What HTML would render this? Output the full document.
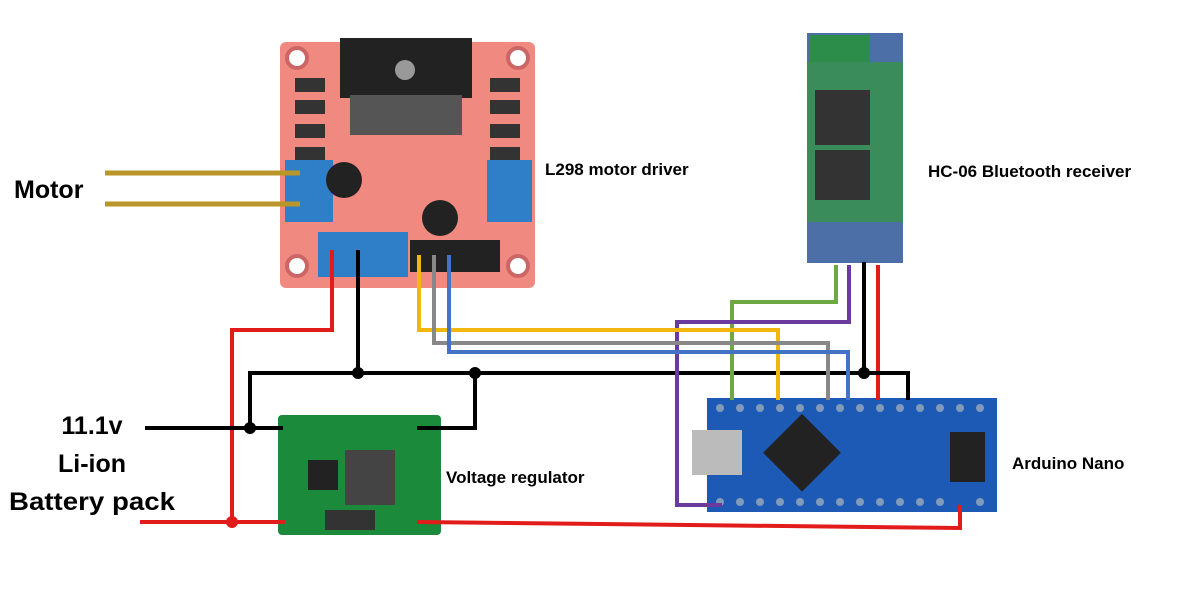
<!DOCTYPE html>
<html><head><style>
body{margin:0;background:#fff;width:1185px;height:592px;overflow:hidden;font-family:"Liberation Sans",sans-serif}
</style></head><body>
<svg width="1185" height="592" xmlns="http://www.w3.org/2000/svg" font-family="Liberation Sans, sans-serif" font-weight="bold">
<!-- L298 board -->
<rect x="280" y="42" width="255" height="246" rx="6" fill="#f08a80"/>
<rect x="340" y="38" width="132" height="60" fill="#222"/>
<rect x="350" y="95" width="112" height="40" fill="#555"/>
<circle cx="405" cy="70" r="10" fill="#999"/>
<circle cx="297" cy="58" r="10" fill="#fff" stroke="#c66" stroke-width="4"/>
<circle cx="518" cy="58" r="10" fill="#fff" stroke="#c66" stroke-width="4"/>
<circle cx="297" cy="266" r="10" fill="#fff" stroke="#c66" stroke-width="4"/>
<circle cx="518" cy="266" r="10" fill="#fff" stroke="#c66" stroke-width="4"/>
<g fill="#333"><rect x="295" y="78" width="30" height="14"/><rect x="295" y="100" width="30" height="14"/><rect x="295" y="124" width="30" height="14"/><rect x="295" y="147" width="30" height="14"/><rect x="490" y="78" width="30" height="14"/><rect x="490" y="100" width="30" height="14"/><rect x="490" y="124" width="30" height="14"/><rect x="490" y="147" width="30" height="14"/></g>
<rect x="285" y="160" width="48" height="62" fill="#2f7fc8"/>
<rect x="487" y="160" width="45" height="62" fill="#2f7fc8"/>
<rect x="318" y="232" width="90" height="45" fill="#2f7fc8"/>
<circle cx="344" cy="180" r="18" fill="#222"/><circle cx="440" cy="218" r="18" fill="#222"/>
<rect x="410" y="240" width="90" height="32" fill="#222"/>
<!-- HC-06 -->
<rect x="807" y="33" width="96" height="230" fill="#4c6fa8"/>
<rect x="810" y="35" width="60" height="30" fill="#2c8c4a"/>
<rect x="807" y="62" width="96" height="160" fill="#3a8d5a"/>
<rect x="815" y="90" width="55" height="55" fill="#333"/><rect x="815" y="150" width="55" height="50" fill="#333"/>
<!-- Regulator -->
<rect x="278" y="415" width="163" height="120" rx="4" fill="#1b8a3a"/>
<rect x="345" y="450" width="50" height="55" fill="#444"/>
<rect x="308" y="460" width="30" height="30" fill="#222"/>
<rect x="325" y="510" width="50" height="20" fill="#333"/>
<!-- Nano -->
<rect x="707" y="398" width="290" height="114" fill="#1d5ab5"/>
<g fill="#9ab" opacity="0.8">
<circle cx="720" cy="408" r="4"/><circle cx="740" cy="408" r="4"/><circle cx="760" cy="408" r="4"/><circle cx="780" cy="408" r="4"/><circle cx="800" cy="408" r="4"/><circle cx="820" cy="408" r="4"/><circle cx="840" cy="408" r="4"/><circle cx="860" cy="408" r="4"/><circle cx="880" cy="408" r="4"/><circle cx="900" cy="408" r="4"/><circle cx="920" cy="408" r="4"/><circle cx="940" cy="408" r="4"/><circle cx="960" cy="408" r="4"/><circle cx="980" cy="408" r="4"/>
<circle cx="720" cy="502" r="4"/><circle cx="740" cy="502" r="4"/><circle cx="760" cy="502" r="4"/><circle cx="780" cy="502" r="4"/><circle cx="800" cy="502" r="4"/><circle cx="820" cy="502" r="4"/><circle cx="840" cy="502" r="4"/><circle cx="860" cy="502" r="4"/><circle cx="880" cy="502" r="4"/><circle cx="900" cy="502" r="4"/><circle cx="920" cy="502" r="4"/><circle cx="940" cy="502" r="4"/><circle cx="980" cy="502" r="4"/>
</g>
<rect x="692" y="430" width="50" height="45" fill="#bbb"/>
<rect x="775" y="425" width="55" height="55" fill="#222" transform="rotate(45 802 452)"/>
<rect x="950" y="432" width="35" height="50" fill="#222"/>
<g fill="none" stroke-linejoin="miter" stroke-width="4">
<path d="M105 173H300M105 204H300" stroke="#b8962a" stroke-width="5"/>
<path d="M332 250V330H232V522M140 522H285" stroke="#e21b1b"/>
<path d="M417 522L960 528V505" stroke="#e21b1b"/>
<path d="M878 265V400" stroke="#e21b1b"/>
<path d="M358 250V373M250 428V373H908V400M145 428H283M475 373V428H417M864 262V373" stroke="#000"/>
<path d="M836 265V302H732V400" stroke="#6ea843"/>
<path d="M849 265V322H677V505H722" stroke="#6b3a9e"/>
<path d="M419 255V330H778V400" stroke="#f2b70c"/>
<path d="M434 255V343H828V400" stroke="#888"/>
<path d="M449 255V352H848V400" stroke="#4472c4"/>
</g>
<g fill="#000"><circle cx="358" cy="373" r="6"/><circle cx="475" cy="373" r="6"/><circle cx="250" cy="428" r="6"/><circle cx="864" cy="373" r="6"/></g>
<circle cx="232" cy="522" r="6" fill="#e21b1b"/>
<g font-size="25"><text x="14" y="198">Motor</text>
<text x="92" y="434" text-anchor="middle">11.1v</text><text x="92" y="472" text-anchor="middle">Li-ion</text><text x="92" y="510" text-anchor="middle" textLength="166" lengthAdjust="spacingAndGlyphs">Battery pack</text></g>
<g font-size="17"><text x="545" y="175">L298 motor driver</text><text x="928" y="177">HC-06 Bluetooth receiver</text>
<text x="446" y="483">Voltage regulator</text><text x="1012" y="469">Arduino Nano</text></g>
</svg>
</body></html>
